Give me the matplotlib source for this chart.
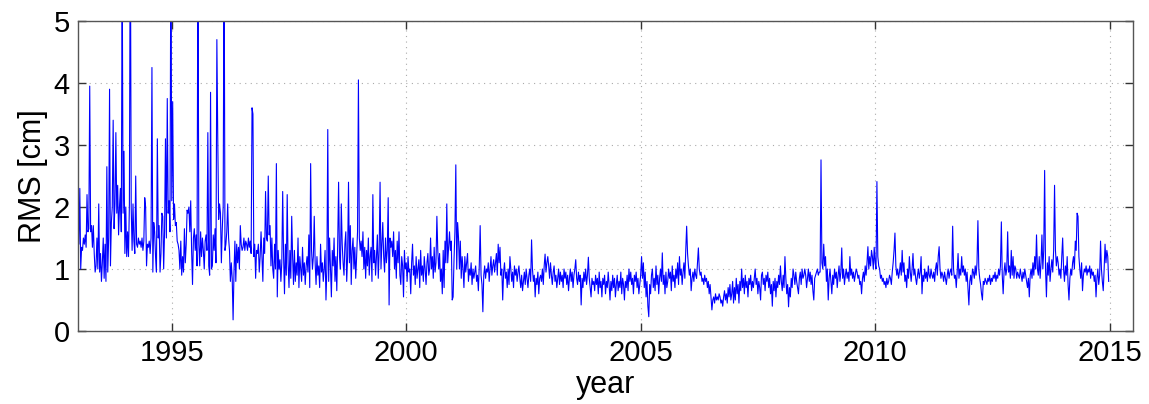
import numpy as np
import matplotlib
matplotlib.use("Agg")
import matplotlib.pyplot as plt

start_year = 1993
weeks_per_year = 52

rms_1993 = [2.35,1.4,2.3,1.0,1.35,1.3,1.5,1.4,1.55,1.35,2.2,1.6,1.65,3.95,1.6,1.7,1.35,1.7,1.25,0.95,1.05,1.5,1.0,2.05,0.95,1.25,0.8,1.1,1.5,0.85,1.4,0.8,2.65,0.95,1.5,3.9,1.05,1.75,2.0,3.4,1.65,2.05,3.2,1.9,2.35,1.55,2.0,2.3,1.6,6.0,1.9,2.9]
rms_1994 = [1.25,2.0,1.2,1.6,1.2,2.05,7.0,2.0,1.3,2.05,1.45,1.25,2.5,1.4,1.35,1.5,1.4,1.45,1.35,1.5,1.3,1.45,2.15,2.0,1.05,1.4,1.35,1.45,1.25,1.5,4.25,0.95,1.75,1.6,1.2,0.95,3.1,1.5,1.7,0.95,1.25,1.9,1.85,1.0,1.6,3.1,1.5,3.75,1.9,2.1,1.6,6.5]
rms_1995 = [2.1,3.7,1.8,2.05,1.7,1.75,1.45,1.4,1.3,1.0,1.45,0.9,1.2,0.95,1.65,1.1,1.4,1.95,1.9,2.0,1.6,2.1,1.3,0.75,1.5,1.65,1.3,1.55,1.05,6.5,1.4,1.05,1.6,1.2,1.5,1.3,1.0,1.45,1.55,1.3,3.2,1.05,0.9,3.85,1.0,1.05,1.55,1.3,1.65,1.1,4.7,3.1]
rms_1996 = [1.8,2.05,1.9,1.1,1.65,2.0,6.5,1.3,1.4,1.6,2.05,1.5,1.3,0.8,1.1,0.85,0.18,0.95,1.45,0.8,1.4,1.1,1.35,1.0,1.7,1.4,1.3,1.35,1.5,1.3,1.45,1.4,1.3,1.5,1.35,1.45,1.25,3.6,3.5,1.2,1.4,0.85,1.3,1.25,1.4,0.95,1.2,1.6,1.2,0.8,1.5,1.25]
rms_1997 = [2.25,1.5,1.45,2.5,1.55,1.7,1.05,1.5,1.0,0.85,1.4,1.0,2.7,0.55,1.3,1.0,1.15,0.8,1.1,2.25,1.2,0.6,1.4,0.9,2.2,1.1,0.7,1.3,0.85,1.85,1.2,0.75,1.3,0.8,1.1,0.9,1.5,0.7,1.2,1.0,0.8,1.35,0.9,1.1,0.75,1.05,1.2,0.95,1.55,0.7,2.7,1.3]
rms_1998 = [1.0,1.2,1.85,1.1,0.75,1.2,0.9,1.05,0.7,1.4,0.95,1.1,0.8,1.0,1.3,0.5,1.0,3.25,0.8,1.5,1.0,0.55,1.3,1.05,1.5,0.8,1.2,0.65,1.4,2.4,1.2,1.0,2.05,1.4,1.1,0.9,1.4,1.6,0.8,1.2,2.4,1.1,1.7,0.75,1.3,1.5,1.0,1.35,0.85,1.2,1.6,4.05]
rms_1999 = [1.5,1.3,1.45,1.2,1.6,1.0,1.35,0.85,1.3,1.05,1.5,0.9,1.2,1.35,0.8,2.2,1.1,1.3,0.9,1.2,1.55,0.85,1.3,2.4,1.0,1.4,1.75,1.2,0.95,1.5,1.1,1.3,2.15,0.42,1.5,1.35,1.45,1.2,1.6,1.0,1.3,0.85,1.45,1.1,1.6,0.9,0.75,1.2,1.05,0.55,1.3,1.0]
rms_2000 = [1.1,0.8,1.2,0.95,1.0,0.6,1.1,1.4,0.9,1.05,0.75,1.2,0.85,1.0,1.15,0.7,1.3,0.9,1.05,0.8,1.2,1.0,0.75,1.1,1.25,0.9,1.0,1.5,1.0,1.2,0.85,1.35,0.95,1.1,1.85,1.3,1.0,1.25,0.8,1.0,0.6,1.3,0.7,1.45,1.1,2.05,1.1,1.35,1.6,1.3,1.45,0.5]
rms_2001 = [0.55,1.15,1.6,2.68,1.0,1.75,1.5,1.0,1.45,0.85,1.2,1.0,0.7,1.2,0.95,1.1,1.25,0.8,1.0,0.9,1.1,0.75,1.0,0.85,0.95,1.05,0.8,0.9,0.65,1.05,1.7,0.9,0.75,0.31,0.9,1.05,0.85,1.0,0.95,1.1,0.8,1.0,1.2,0.9,1.05,1.15,0.95,1.1,1.25,0.9,1.4,1.1]
rms_2002 = [1.35,0.9,1.0,0.5,0.95,1.1,0.85,0.95,0.7,1.0,0.75,1.2,1.0,0.8,0.95,0.7,1.05,0.9,1.0,0.8,0.95,1.05,0.85,0.7,0.9,0.65,0.8,0.95,0.75,1.0,0.85,0.7,0.9,1.0,0.8,1.47,1.0,0.8,0.9,0.55,0.85,0.75,0.95,0.6,0.85,0.9,0.8,1.0,0.75,1.05,1.24,0.95]
rms_2003 = [1.1,1.2,1.05,0.85,1.1,0.9,0.75,0.95,1.05,0.8,0.9,0.7,0.85,1.0,0.75,0.95,0.8,0.9,0.7,1.0,0.85,0.95,0.75,0.9,0.65,0.85,1.0,0.8,0.95,0.7,0.9,1.0,1.15,0.85,0.75,0.95,0.8,0.9,0.42,0.85,0.7,0.95,0.8,1.0,0.75,0.9,1.19,0.85,0.7,0.55,0.85,0.75]
rms_2004 = [0.8,0.65,0.9,0.75,0.85,0.6,0.95,0.7,0.8,0.55,0.85,0.75,0.9,0.6,0.8,0.7,0.95,0.75,0.5,0.8,0.65,0.9,0.7,0.85,0.55,0.75,0.9,0.65,0.8,0.7,0.95,0.6,0.85,0.75,0.5,0.8,0.7,0.9,0.65,1.0,0.8,0.95,0.75,0.85,0.6,0.9,0.8,0.95,0.7,0.85,0.6,0.75]
rms_2005 = [0.9,1.2,0.85,1.1,0.7,0.95,0.55,0.8,0.4,0.23,0.75,0.6,0.9,1.0,0.7,0.85,0.65,1.05,0.75,0.9,0.6,0.85,1.0,0.8,1.26,0.75,0.9,0.6,0.95,0.7,0.8,1.0,0.85,0.95,0.65,1.05,0.8,0.9,0.7,1.0,0.85,1.1,0.75,1.2,0.9,1.0,0.75,0.95,1.1,0.85,1.3,1.69]
rms_2006 = [1.25,1.05,0.9,1.0,0.65,0.85,0.95,0.8,1.0,0.9,0.85,1.1,1.34,1.0,0.9,0.95,0.8,0.85,0.75,0.9,0.8,0.85,0.7,0.8,0.6,0.75,0.55,0.34,0.5,0.55,0.45,0.6,0.5,0.55,0.5,0.6,0.55,0.45,0.5,0.4,0.55,0.65,0.5,0.6,0.45,0.7,0.55,0.75,0.5,0.6,0.8,0.45]
rms_2007 = [0.7,0.5,0.85,0.6,0.75,0.45,0.8,0.65,1.0,0.7,0.85,0.6,0.9,0.7,0.8,0.55,0.85,0.75,0.9,0.65,0.8,0.7,0.85,1.0,0.75,0.85,0.6,0.8,0.7,0.5,0.9,0.95,0.75,0.85,0.65,0.9,0.8,0.95,0.7,0.85,0.6,0.75,0.4,0.8,0.65,0.85,0.55,0.8,0.7,0.9,0.75,1.05]
rms_2008 = [0.8,0.65,0.9,0.7,1.2,0.85,0.6,0.75,0.39,0.7,0.55,0.85,0.7,1.0,0.9,0.75,0.95,0.8,0.7,0.6,0.85,0.95,0.75,1.0,0.85,0.9,1.0,0.9,0.7,0.85,1.0,0.8,0.95,0.75,0.9,0.65,0.5,0.85,0.9,0.95,1.0,0.9,0.95,0.95,2.76,1.1,1.0,1.4,1.05,1.2,0.8,1.0]
rms_2009 = [0.5,0.85,1.0,0.8,0.6,0.9,0.75,1.0,0.85,0.95,0.7,0.9,1.05,0.8,0.95,1.34,0.85,1.0,0.75,0.9,1.0,0.85,0.95,0.8,1.2,0.9,1.0,0.85,0.95,0.8,0.9,1.0,0.95,0.85,0.9,0.75,0.8,0.6,0.85,0.95,0.8,1.05,0.9,1.1,1.36,1.0,1.2,1.05,1.3,1.2,1.0,1.35]
rms_2010 = [1.1,1.0,2.41,1.2,1.05,1.0,0.85,0.9,0.8,0.85,0.75,0.8,0.7,0.85,0.75,0.8,0.9,0.85,0.75,0.95,1.1,1.3,1.58,1.05,0.9,1.0,0.85,0.95,1.1,0.9,1.3,0.95,1.1,0.8,0.9,0.7,1.0,0.85,1.2,0.95,0.8,1.0,1.25,0.9,1.0,0.85,0.75,0.9,1.0,0.85,0.95,1.2]
rms_2011 = [0.6,0.9,0.8,1.0,0.85,0.95,0.8,1.05,0.9,0.85,1.0,0.9,0.85,0.95,0.8,1.0,1.1,0.9,1.2,1.36,1.0,0.85,0.95,0.9,0.8,0.95,0.85,0.75,0.9,1.0,0.85,0.95,1.0,0.9,1.69,1.0,0.85,0.9,0.7,0.95,1.25,0.85,1.0,0.9,1.2,0.95,1.05,0.9,1.0,0.8,0.95,0.7]
rms_2012 = [0.42,0.8,0.9,0.75,1.0,0.95,0.85,1.05,0.9,1.1,1.78,1.0,0.85,0.75,0.6,0.5,0.8,0.75,0.85,0.8,0.75,0.85,0.8,0.9,0.75,0.85,0.8,0.9,0.85,0.95,0.8,0.9,0.85,1.0,0.9,1.05,1.76,0.9,0.6,0.95,1.1,0.9,1.0,1.6,0.95,1.05,0.85,1.3,0.9,1.2,0.85,1.05]
rms_2013 = [1.0,0.85,0.95,0.9,0.85,1.0,0.9,0.8,0.95,0.85,1.0,0.9,0.8,0.7,0.85,0.55,0.9,1.0,0.85,1.1,0.9,1.2,1.0,1.55,1.0,0.9,1.2,0.85,1.1,1.55,1.0,1.3,2.59,1.0,0.55,1.1,0.9,1.2,0.8,1.0,1.15,0.95,1.3,2.35,1.3,1.05,1.2,1.1,0.9,1.0,0.85,1.2]
rms_2014 = [1.5,1.0,0.8,1.05,0.9,1.2,0.75,0.5,0.85,1.0,0.9,1.1,1.2,1.0,1.45,1.3,1.9,1.85,1.2,1.0,0.85,1.1,0.65,0.9,1.0,0.95,1.05,0.9,1.0,0.95,1.05,0.85,1.0,0.9,0.95,0.8,0.9,0.55,0.85,1.0,0.75,0.9,1.45,1.0,0.8,0.65,1.0,1.4,1.1,1.3,1.2,0.8]

yearly = [rms_1993, rms_1994, rms_1995, rms_1996, rms_1997, rms_1998, rms_1999,
          rms_2000, rms_2001, rms_2002, rms_2003, rms_2004, rms_2005, rms_2006,
          rms_2007, rms_2008, rms_2009, rms_2010, rms_2011, rms_2012, rms_2013, rms_2014]

rms = np.concatenate([np.asarray(v, dtype=float) for v in yearly])
t = start_year + np.arange(len(rms)) / weeks_per_year

x_ticks = [1995, 2000, 2005, 2010, 2015]
y_ticks = [0, 1, 2, 3, 4, 5]

plt.rcParams['font.family'] = ['Liberation Sans', 'DejaVu Sans']

fig = plt.figure(figsize=(11.49, 4.04), dpi=100)
ax = fig.add_axes([78/1149, 1 - 331/404, (1133-78)/1149, (331-21)/404])
ax.plot(t, rms, color=(0, 0, 1), linewidth=0.8)
ax.set_xlim(1993.0, 2015.5)
ax.set_ylim(0, 5)
ax.set_xticks(x_ticks)
ax.set_yticks(y_ticks)
ax.tick_params(direction='in', length=6, width=1, top=True, right=True,
               labelsize=21, colors='#333333', labelcolor='black', pad=6)
ax.grid(True, linestyle=(0, (1, 4)), color='#aaaaaa', linewidth=0.8)
for s in ax.spines.values():
    s.set_color('#555555')
    s.set_linewidth(1.0)
ax.set_xlabel('year', fontsize=22, labelpad=2)
ax.set_ylabel('RMS [cm]', fontsize=22, labelpad=4)
fig.savefig('out.png', dpi=100)
